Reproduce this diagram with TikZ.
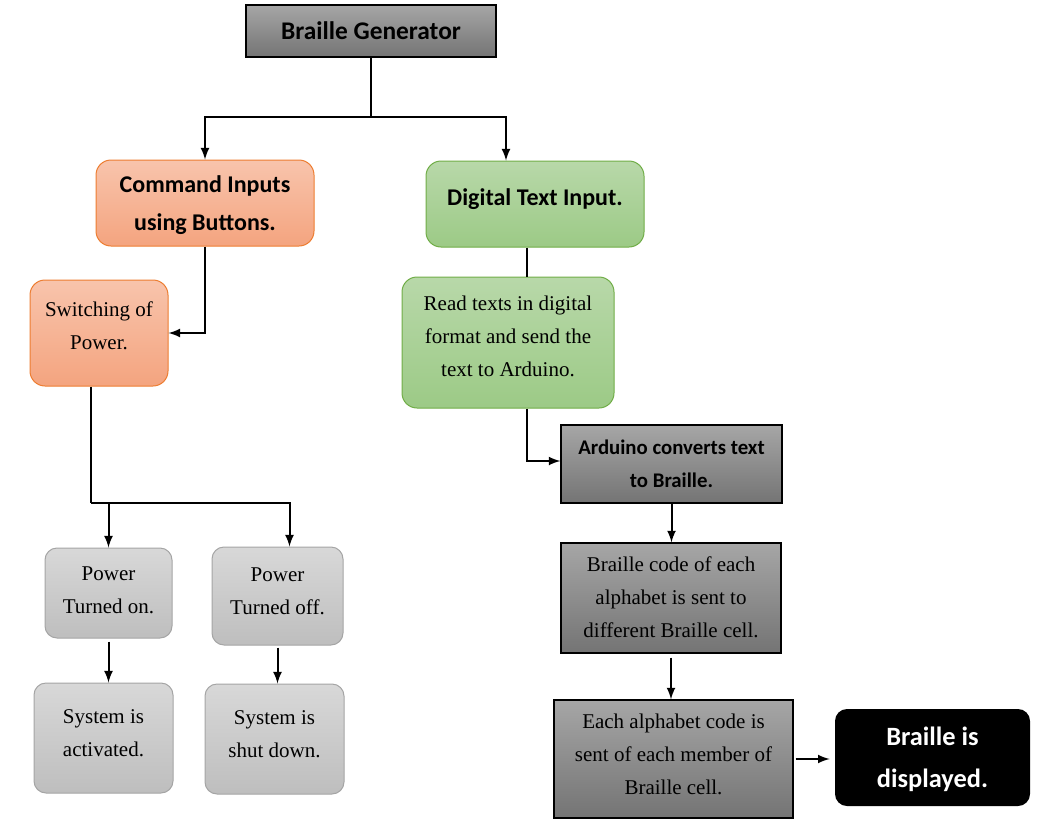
\documentclass[tikz,border=0pt]{standalone}
\definecolor{greytop}{RGB}{166, 166, 166}
\definecolor{greybot}{RGB}{116, 116, 116}
\definecolor{lighttop}{RGB}{216, 216, 216}
\definecolor{lightbot}{RGB}{190, 190, 190}
\definecolor{lightline}{RGB}{165, 165, 165}
\definecolor{orangetop}{RGB}{248, 196, 172}
\definecolor{orangebot}{RGB}{244, 164, 127}
\definecolor{orangeline}{RGB}{237, 125, 49}
\definecolor{greentop}{RGB}{184, 216, 169}
\definecolor{greenbot}{RGB}{156, 202, 134}
\definecolor{greenline}{RGB}{112, 173, 71}
\usepackage{fontspec}
\setmainfont{Liberation Serif}
\newfontfamily\headfont{Carlito}
\usepackage{tikz}
\usetikzlibrary{arrows, positioning, calc}
\tikzset{
  darkbox/.style={rectangle, draw=black, top color=greytop, bottom color=greybot, line width=0.6pt, align=center, inner sep=0pt},
  lightbox/.style={rectangle, rounded corners=6pt, draw=lightline, top color=lighttop, bottom color=lightbot, line width=0.5pt, align=center, inner sep=0pt},
  colorbox/.style={rectangle, rounded corners=7.5pt, draw=#1line, top color=#1top, bottom color=#1bot, line width=0.5pt, align=center, inner sep=0pt},
  headtext/.style={font=\headfont\bfseries\fontsize{12}{19}\selectfont},
  bodytext/.style={font=\fontsize{10.5}{16.5}\selectfont},
  link/.style={draw, line width=1pt},
  arrowlink/.style={draw, line width=1pt, -latex},
}

\begin{document}
\begin{tikzpicture}[x=0.5pt, y=-0.5pt]
\useasboundingbox (0,0) rectangle (1055,835);

% Top box
\node[darkbox, headtext, font=\headfont\bfseries\fontsize{12.7}{19}\selectfont, minimum width=125pt, minimum height=26pt] (title) at (371,31) {Braille Generator};

% Second row
\node[colorbox=orange, headtext, minimum width=109pt, minimum height=43pt, text depth=0pt] (cmd) at (205,203) {Command Inputs\\using Buttons.};
\node[colorbox=green, headtext, minimum width=109pt, minimum height=43pt, text depth=7pt] (digital) at (535,204) {Digital Text Input.};

% Left branch
\node[colorbox=orange, bodytext, minimum width=69pt, minimum height=53pt, text depth=7pt] (switch) at (99,333) {Switching of\\Power.};
\node[lightbox, bodytext, minimum width=63.5pt, minimum height=45pt, text depth=3pt] (on) at (108.5,593) {Power\\Turned on.};
\node[lightbox, bodytext, minimum width=65.5pt, minimum height=49pt, text depth=5pt] (off) at (277.5,596) {Power\\Turned off.};
\node[lightbox, bodytext, minimum width=69.5pt, minimum height=55pt, text depth=5pt] (act) at (103.5,738) {System is\\activated.};
\node[lightbox, bodytext, minimum width=69.5pt, minimum height=55pt, text depth=5pt] (shut) at (274.5,739) {System is\\shut down.};

% Right branch
\node[colorbox=green, bodytext, minimum width=106pt, minimum height=65.5pt, text depth=6pt] (read) at (508,342.5) {Read texts in digital\\format and send the\\text to Arduino.};
\node[darkbox, headtext, font=\headfont\bfseries\fontsize{10.4}{16.5}\selectfont, minimum width=110.5pt, minimum height=39pt] (ardu) at (671.5,464) {Arduino converts text\\to Braille.};
\node[darkbox, bodytext, minimum width=110pt, minimum height=55pt, text depth=1pt] (code) at (671,598) {Braille code of each\\alphabet is sent to\\different Braille cell.};
\node[darkbox, bodytext, minimum width=119.5pt, minimum height=59pt, text depth=5pt] (each) at (673.5,759) {Each alphabet code is\\sent of each member of\\Braille cell.};
\node[rectangle, rounded corners=6pt, fill=black, text=white, font=\headfont\bfseries\fontsize{13.2}{21}\selectfont, align=center, inner sep=0pt, minimum width=97.5pt, minimum height=48.5pt, text depth=0pt] (disp) at (932.5,757.5) {Braille is\\displayed.};

% Connectors from the top box
\coordinate (split) at (371,117);
\path[link] (title.south) -- (split);
\path[arrowlink] (split) -| (cmd.north);
\path[arrowlink] (split) -| ([xshift=-14.5pt]digital.north);

% Command side
\path[arrowlink] (cmd.south) |- (switch.east);
\coordinate (fork) at (91,503);
\path[link] (switch.south -| fork) -- (fork);
\path[arrowlink] (fork) -| (on.north);
\path[arrowlink] (fork) -| ([xshift=6pt]off.north);
\path[arrowlink] ([yshift=-1.5pt]on.south) -- (on.south |- act.north);
\path[arrowlink] ([yshift=-1pt]off.south) -- (off.south |- shut.north);

% Digital side
\path[link] ([xshift=-4pt]digital.south) -- ([xshift=-4pt]digital.south |- read.north);
\path[arrowlink] ([xshift=9.5pt]read.south) |- ([yshift=1.5pt]ardu.west);
\path[arrowlink] (ardu.south) -- (ardu.south |- code.north);
\path[arrowlink] ([yshift=-2pt]code.south) -- (code.south |- each.north);
\path[arrowlink] ([xshift=1pt]each.east) -- ([xshift=-2.5pt]each.east -| disp.west);
\end{tikzpicture}
\end{document}
